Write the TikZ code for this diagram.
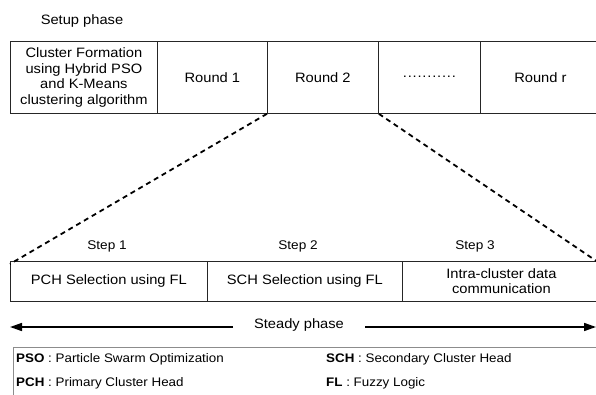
\documentclass[tikz,border=0pt]{standalone}
\usepackage{fontspec}
\setmainfont{Liberation Sans}[FakeStretch=1.08]
\usetikzlibrary{arrows.meta}
\begin{document}
\begin{tikzpicture}[x=1pt,y=-1pt,
  cell/.style={draw=black!85, line width=0.8pt, anchor=north west, inner sep=0pt, align=center, font=\fontsize{13.6}{15.7}\selectfont},
  steplbl/.style={font=\fontsize{12.6}{15}\selectfont},
  lgd/.style={font=\fontsize{12.4}{15}\selectfont, anchor=west, inner sep=0pt},
  zoom/.style={dash pattern=on 5pt off 4pt, line width=1.8pt},
  phase/.style={line width=1.6pt, -{Triangle[length=12pt,width=8pt]}}
]
\useasboundingbox (0,0) rectangle (596,395);
\fill[white] (0,0) rectangle (596,395);

\node[font=\fontsize{13.6}{15}\selectfont] (setup) at (82,21) {Setup phase};

% top row
\node[cell, minimum width=147pt, minimum height=72pt] (c0) at (10,41)
  {Cluster Formation\\using Hybrid PSO\\and K-Means\\clustering algorithm};
\node[cell, minimum width=110pt, minimum height=72pt] (c1) at (157,41) {Round 1};
\node[cell, minimum width=111pt, minimum height=72pt] (c2) at (267,41) {Round 2};
\node[cell, minimum width=102pt, minimum height=72pt] (c3) at (378,41) {\raisebox{0.3ex}{\addfontfeature{LetterSpace=6}...........}};
\node[cell, minimum width=120pt, minimum height=72pt] (c4) at (480,41) {Round r};

% bottom row
\node[cell, minimum width=197pt, minimum height=40pt] (s1) at (10,261) {PCH Selection using FL};
\node[cell, minimum width=195pt, minimum height=40pt] (s2) at (207,261) {SCH Selection using FL};
\node[cell, minimum width=198pt, minimum height=40pt, font=\fontsize{13.6}{15}\selectfont] (s3) at (402,261) {Intra-cluster data\\communication};

\node[steplbl] (st1) at (107,246) {Step 1};
\node[steplbl] (st2) at (298,246) {Step 2};
\node[steplbl] (st3) at (475,246) {Step 3};

% zoom lines
\draw[zoom] (c2.south west) -- ([yshift=-3pt]s1.north west);
\draw[zoom] (c2.south east) -- ([yshift=-3pt]s3.north east);

% steady phase
\node[font=\fontsize{13.6}{15}\selectfont] (steady) at (299,325) {Steady phase};
\coordinate (la) at (233,327);
\coordinate (lb) at (10,327);
\coordinate (ra) at (365,327);
\coordinate (rb) at (596,327);
\draw[phase] (la) -- (lb);
\draw[phase] (ra) -- (rb);

% legend
\node[draw=black!45, line width=0.8pt, anchor=north west, minimum width=600pt, minimum height=70pt] (legend) at (13,347) {};
\node[lgd] (l1) at (16,359) {\textbf{PSO} : Particle Swarm Optimization};
\node[lgd] (l2) at (16,383) {\textbf{PCH} : Primary Cluster Head};
\node[lgd] (l3) at (326,359) {\textbf{SCH} : Secondary Cluster Head};
\node[lgd] (l4) at (326,383) {\textbf{FL} : Fuzzy Logic};
\end{tikzpicture}
\end{document}
